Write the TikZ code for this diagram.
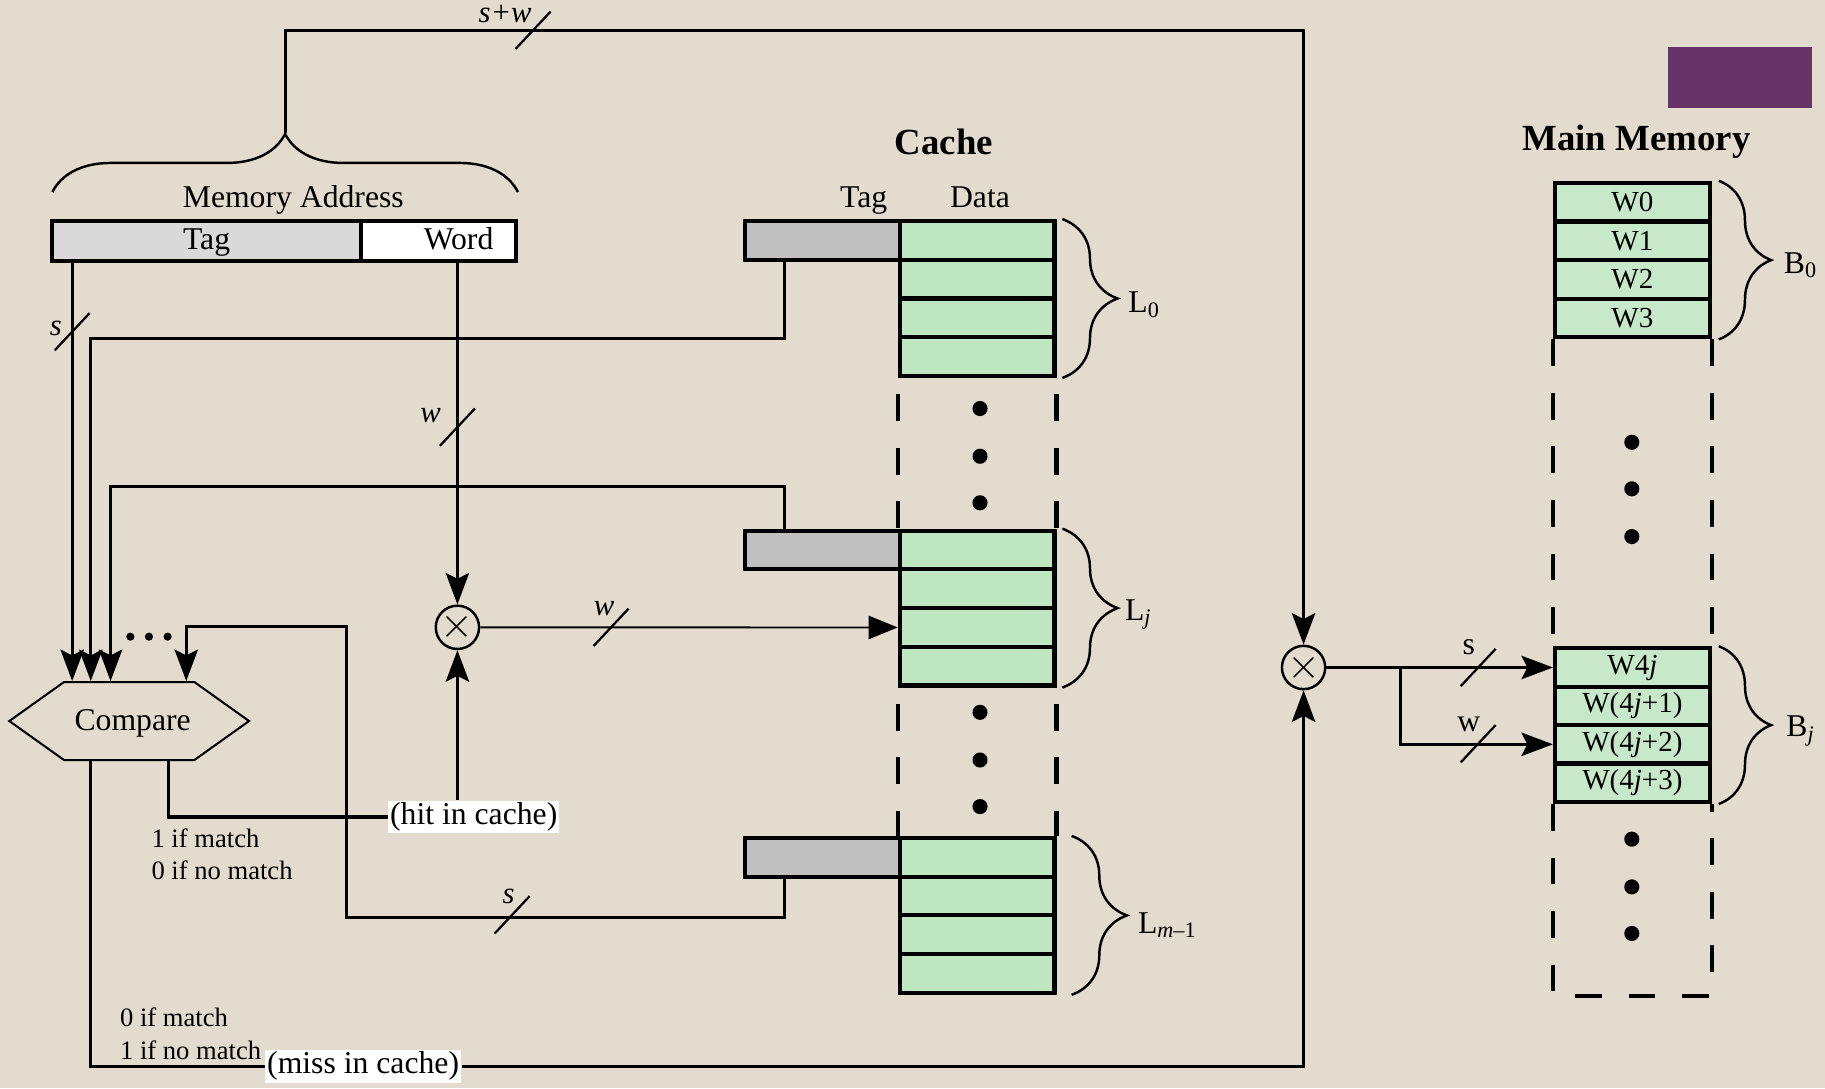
\documentclass[tikz,border=0pt]{standalone}
\usepackage{fontspec}
\setmainfont{Liberation Serif}
\usetikzlibrary{arrows.meta, calc, shapes.symbols, decorations.pathreplacing}
\definecolor{paper}{HTML}{E3DBCD}
\definecolor{cachegreen}{HTML}{BDE6C1}
\definecolor{memgreen}{HTML}{C8E9C9}
\definecolor{taggray}{HTML}{C0C0C0}
\definecolor{addrgray}{HTML}{D9D9D9}
\definecolor{plum}{HTML}{663366}

\begin{document}
\begin{tikzpicture}[x=0.02cm, y=-0.02cm,
    font=\fontsize{15.5}{18}\selectfont,
    even/.style={text height=1.55ex, text depth=0.45ex},
    dcell/.style={draw, line width=2pt, fill=cachegreen, minimum width=2.66cm,
        minimum height=0.665cm, inner sep=0pt},
    tagcell/.style={dcell, fill=taggray},
    memcell/.style={dcell, fill=memgreen, minimum height=0.66cm, font=\fontsize{14.2}{16}\selectfont},
    field/.style={draw, line width=2pt, minimum height=0.68cm, inner sep=0pt,
        text height=2.3ex, text depth=0.45ex},
    bus/.style={line width=1.55pt},
    arr/.style={bus, -{Stealth[length=0.54cm, width=0.4cm, inset=0.1cm]}},
    mux/.style={circle, draw, line width=1.2pt, minimum size=0.68cm, inner sep=0pt,
        font=\fontsize{22}{22}\selectfont},
    brc/.style={decorate, decoration={brace, amplitude=#1}, line width=1.2pt},
    brc/.default=0.95cm,
    gapline/.style={line width=2pt, dash pattern=on 0.46cm off 0.46cm},
    heading/.style={font=\fontsize{18}{20}\selectfont\bfseries},
    note/.style={font=\fontsize{13}{16}\selectfont, align=left, anchor=west},
    flag/.style={fill=white, inner sep=1pt},
    buslbl/.style={font=\fontsize{15}{17}\selectfont\itshape, inner sep=0pt},
    busmark/.pic={\draw[line width=1.1pt] (-15,16) -- (15,-16);}
]
\useasboundingbox[fill=paper] (0,0) rectangle (1568,935);

% memory address
\node[fill=plum, minimum width=2.48cm, minimum height=1.06cm] (badge) at (1495,66.5) {};
\node[field, fill=addrgray, minimum width=5.30cm] (atag) at (177.5,207) {Tag};
\node[field, fill=white, minimum width=2.66cm] (aword) at (376.5,207) {\hspace{0.7cm}Word};
\node[even] (addrlbl) at (252,174) {Memory Address};
\draw[brc=1.0cm] (45,165) -- (445,165);
\coordinate (addrtip) at (245,114);

% cache
\node[heading] (cachettl) at (811,122) {Cache};
\node[even] (ctag) at (742,174) {Tag};
\node[even] (cdata) at (842,174) {Data};
\foreach \ln/\top in {L0/190, Lj/456, Lm/720}{
    \node[tagcell] (\ln-tag) at (706.5,\top+16.6) {};
    \foreach \r in {1,...,4}
        \node[dcell] (\ln-d\r) at (839.5,{\top+16.6+33.25*(\r-1)}) {};
}
\foreach \a/\b in {L0/Lj, Lj/Lm}{
    \draw[gapline, dash phase=0.64cm] (\a-d4.south west) -- (\b-d1.north west);
    \draw[gapline, dash phase=0.64cm] (\a-d4.south east) -- (\b-d1.north east);
}
\foreach \y in {351,392,432,612,653,693} \fill (842,\y) circle (0.13cm);
\draw[brc] ([xshift=0.1cm]L0-d1.north east) -- ([xshift=0.1cm]L0-d4.south east);
\draw[brc] ([xshift=0.1cm]Lj-d1.north east) -- ([xshift=0.1cm]Lj-d4.south east);
\draw[brc] ([xshift=0.26cm]Lm-d1.north east) -- ([xshift=0.26cm]Lm-d4.south east);
\node (L0lbl) at (983,262) {L\textsubscript{0}};
\node (Ljlbl) at (978,528) {L\textsubscript{\textit{j}}};
\node (Lmlbl) at (1003,795) {L\textsubscript{\textit{m}–1}};

% main memory
\node[heading] (memttl) at (1406,122) {Main Memory};
\foreach \w [count=\r from 0] in {W0,W1,W2,W3}
    \node[memcell] (B0-\r) at (1402.5,{173.6+33.25*\r}) {\w};
\foreach \w [count=\r from 0] in {W4\textit{j}, W(4\textit{j}+1), W(4\textit{j}+2), W(4\textit{j}+3)}
    \node[memcell] (Bj-\r) at (1402.5,{573.5+33*\r}) {\w};
\draw[gapline] (B0-3.south west) -- (Bj-0.north west);
\draw[gapline] (B0-3.south east) -- (Bj-0.north east);
\draw[gapline] (Bj-3.south west) -- ++(0,165) -| (Bj-3.south east);
\foreach \y in {380,420,461,721,762,802} \fill (1402,\y) circle (0.13cm);
\draw[brc=0.9cm] ([xshift=0.12cm]B0-0.north east) -- ([xshift=0.12cm]B0-3.south east);
\draw[brc=0.9cm] ([xshift=0.12cm]Bj-0.north east) -- ([xshift=0.12cm]Bj-3.south east);
\node (B0lbl) at (1547,228) {B\textsubscript{0}};
\node (Bjlbl) at (1547,628) {B\textsubscript{\textit{j}}};

% compare and selectors
\node[draw, shape=signal, signal to=west and east, signal pointer angle=71,
    minimum width=4.12cm, minimum height=1.34cm, line width=1pt, inner sep=0pt] (cmp) at (111,619.5) {};
\node[even] (cmptxt) at ($(cmp.center)+(3,4)$) {Compare};
\coordinate (in0) at ($(cmp.north)+(-49,0)$);
\coordinate (in1) at ($(cmp.north)+(-33,0)$);
\coordinate (in2) at ($(cmp.north)+(-16,0)$);
\coordinate (in3) at ($(cmp.north)+(49,0)$);
\coordinate (out0) at ($(cmp.south)+(-33,0)$);
\coordinate (out1) at ($(cmp.south)+(34,0)$);
\foreach \x in {112,128,144} \fill (\x,547) circle (0.07cm);
\node[mux] (mux1) at (393,539) {$\times$};
\node[mux] (mux2) at (1120,573.5) {$\times$};

% tag compare paths
\coordinate (tapx) at (674,0);
\coordinate (loopc) at (298,538);
\draw[arr] (atag.south -| in0) -- (in0);
\draw[arr] (L0-tag.south -| tapx) -- ++(0,66) -| (in1);
\draw[arr] (Lj-tag.north -| tapx) -- ++(0,-36) -| (in2);
\draw[arr] (Lm-tag.south -| tapx) -- ++(0,33) -| (loopc) -| (in3);
\pic at (62,285) {busmark};
\pic at (440,786) {busmark};
\node[buslbl] (slbl1) at (48,282) {s};
\node[buslbl] (slbl2) at (437,770) {s};

% word select
\draw[arr] (aword.south -| mux1) -- (mux1.north);
\draw[line width=0.9pt, -{Triangle[length=0.5cm, width=0.4cm]}] (mux1.east) -- (Lj-d3.west);
\pic at (393,367) {busmark};
\pic at (525,539) {busmark};
\node[buslbl] (wlbl1) at (370,357) {w};
\node[buslbl] (wlbl2) at (519,523) {w};

% hit / miss
\node[flag] (hit) at (407,702) {(hit in cache)};
\draw[bus] (out1) |- (hit.west);
\draw[arr] (hit.north -| mux1) -- (mux1.south);
\node[note] (hitnote) at (124,734) {1 if match\\0 if no match};
\node[flag] (miss) at (312,916) {(miss in cache)};
\draw[bus] (out0) |- (miss.west);
\draw[arr] (miss.east) -| (mux2.south);
\node[note] (missnote) at (97,888) {0 if match\\1 if no match};

% main memory access
\draw[arr] (addrtip) -- ++(0,-88) -| (mux2.north);
\pic at (458,26) {busmark};
\node[buslbl] (swlbl) at (434,12) {s+w};
\coordinate (splitx) at (1203,0);
\draw[arr] (mux2.east) -- (Bj-0.west);
\draw[arr] (mux2 -| splitx) |- (Bj-2.west);
\pic at (1270,573.5) {busmark};
\pic at (1270,639) {busmark};
\node[inner sep=0pt] (slbl3) at (1262,556) {s};
\node[inner sep=0pt] (wlbl3) at (1262,622) {w};
\end{tikzpicture}
\end{document}
